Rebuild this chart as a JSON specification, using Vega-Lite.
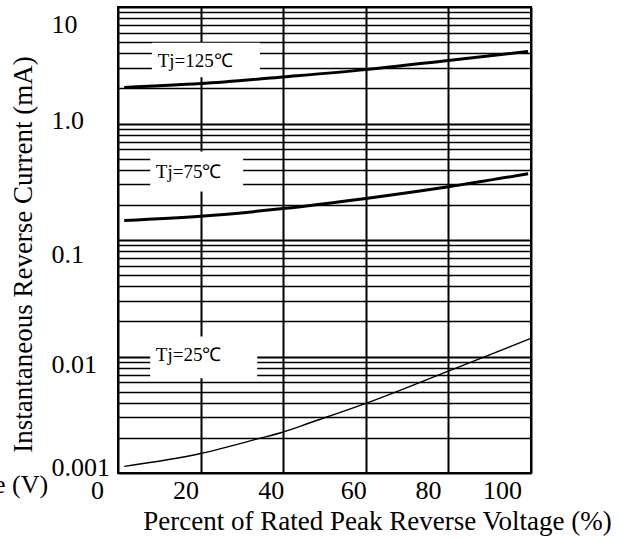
{
  "$schema": "https://vega.github.io/schema/vega-lite/v6.json",
  "width": 413,
  "height": 466,
  "autosize": {"type": "none"},
  "padding": {"left": 118, "top": 7, "right": 90, "bottom": 66},
  "background": "white",
  "config": {
    "view": {"stroke": "black", "strokeWidth": 2},
    "font": "Liberation Serif"
  },
  "datasets": {
    "curves": [
      {"series": "125", "pct": 1.5, "current": 2.04},
      {"series": "125", "pct": 20, "current": 2.2},
      {"series": "125", "pct": 40, "current": 2.51},
      {"series": "125", "pct": 60, "current": 2.9},
      {"series": "125", "pct": 80, "current": 3.48},
      {"series": "125", "pct": 99.3, "current": 4.16},
      {"series": "75", "pct": 1.5, "current": 0.147},
      {"series": "75", "pct": 20, "current": 0.16},
      {"series": "75", "pct": 40, "current": 0.186},
      {"series": "75", "pct": 60, "current": 0.227},
      {"series": "75", "pct": 80, "current": 0.286},
      {"series": "75", "pct": 99.3, "current": 0.37},
      {"series": "25", "pct": 1.5, "current": 0.00114},
      {"series": "25", "pct": 20, "current": 0.00147},
      {"series": "25", "pct": 34, "current": 0.00197},
      {"series": "25", "pct": 40, "current": 0.00225},
      {"series": "25", "pct": 46.5, "current": 0.0027},
      {"series": "25", "pct": 60, "current": 0.00396},
      {"series": "25", "pct": 80, "current": 0.0075},
      {"series": "25", "pct": 100, "current": 0.0143}
    ],
    "boxes": [
      {"label": "Tj=125℃", "x1": 8.2, "x2": 34.4, "y1": 4.94, "y2": 2.49, "tx": 18.7, "ty": 3.46},
      {"label": "Tj=75℃", "x1": 7.8, "x2": 30.3, "y1": 0.574, "y2": 0.261, "tx": 17.1, "ty": 0.387},
      {"label": "Tj=25℃", "x1": 7.8, "x2": 33.7, "y1": 0.01486, "y2": 0.00649, "tx": 17.1, "ty": 0.0104}
    ],
    "extra": [
      {"text": "e (V)", "pct": -16.9, "current": 0.00079}
    ]
  },
  "layer": [
    {
      "data": {"name": "curves"},
      "transform": [{"filter": "datum.series != '25'"}],
      "mark": {"type": "line", "interpolate": "monotone", "color": "black", "strokeWidth": 3},
      "encoding": {
        "x": {
          "field": "pct", "type": "quantitative",
          "scale": {"domain": [0, 100], "nice": false, "zero": false},
          "axis": {
            "values": [0, 20, 40, 60, 80, 100],
            "grid": true, "gridColor": "black", "gridWidth": 2, "gridOpacity": 1,
            "domain": false, "ticks": false, "tickSize": 0,
            "labelFont": "Liberation Serif", "labelFontSize": 26, "labelColor": "black",
            "labelBaseline": "middle", "labelPadding": 17, "labelFlush": false, "labelOverlap": false,
            "labelOffset": {"condition": [
              {"test": "datum.value == 0", "value": -21},
              {"test": "datum.value == 20", "value": -15},
              {"test": "datum.value == 40", "value": -12.5},
              {"test": "datum.value == 60", "value": -12.5},
              {"test": "datum.value == 80", "value": -20.5},
              {"test": "datum.value == 100", "value": -29}
            ], "value": -14},
            "title": "Percent of Rated Peak Reverse Voltage (%)",
            "titleFont": "Liberation Serif", "titleFontSize": 27, "titleFontWeight": "normal", "titleColor": "black",
            "titleX": 259, "titleY": 56, "titleAlign": "center", "titleBaseline": "alphabetic"
          }
        },
        "y": {
          "field": "current", "type": "quantitative",
          "scale": {"type": "log", "domain": [0.001, 10], "nice": false},
          "axis": {
            "values": [0.001, 0.002, 0.003, 0.004, 0.005, 0.006, 0.007, 0.008, 0.009,
                       0.01, 0.02, 0.03, 0.04, 0.05, 0.06, 0.07, 0.08, 0.09,
                       0.1, 0.2, 0.3, 0.4, 0.5, 0.6, 0.7, 0.8, 0.9,
                       1, 2, 3, 4, 5, 6, 7, 8, 9, 10],
            "labelExpr": "datum.value == 10 ? '10' : datum.value == 1 ? '1.0' : datum.value == 0.1 ? '0.1' : datum.value == 0.01 ? '0.01' : datum.value == 0.001 ? '0.001' : ''",
            "grid": true, "gridColor": "black", "gridOpacity": 1,
            "gridWidth": {"condition": {"test": "indexof([0.001, 0.01, 0.1, 1, 10], datum.value) >= 0", "value": 2}, "value": 1.4},
            "domain": false, "ticks": false, "tickSize": 0,
            "labelFont": "Liberation Serif", "labelFontSize": 26, "labelColor": "black",
            "labelAlign": "left", "labelBaseline": "middle", "labelPadding": 67,
            "labelFlush": false, "labelOverlap": false,
            "labelOffset": {"condition": [
              {"test": "datum.value == 10", "value": 17},
              {"test": "datum.value == 1", "value": -3.5},
              {"test": "datum.value == 0.1", "value": 14},
              {"test": "datum.value == 0.01", "value": 8},
              {"test": "datum.value == 0.001", "value": -5.5}
            ], "value": 0},
            "title": "Instantaneous Reverse Current (mA)",
            "titleFont": "Liberation Serif", "titleFontSize": 27, "titleFontWeight": "normal", "titleColor": "black",
            "titleAngle": -90, "titleX": -95, "titleY": 247, "titleAlign": "center", "titleBaseline": "middle"
          }
        },
        "detail": {"field": "series"}
      }
    },
    {
      "data": {"name": "curves"},
      "transform": [{"filter": "datum.series == '25'"}],
      "mark": {"type": "line", "interpolate": "monotone", "color": "black", "strokeWidth": 1.4},
      "encoding": {
        "x": {"field": "pct", "type": "quantitative"},
        "y": {"field": "current", "type": "quantitative"}
      }
    },
    {
      "data": {"name": "boxes"},
      "mark": {"type": "rect", "fill": "white", "stroke": null},
      "encoding": {
        "x": {"field": "x1", "type": "quantitative"},
        "x2": {"field": "x2"},
        "y": {"field": "y1", "type": "quantitative"},
        "y2": {"field": "y2"}
      }
    },
    {
      "data": {"name": "boxes"},
      "mark": {"type": "text", "font": "Liberation Serif", "fontSize": 19, "color": "black", "align": "center", "baseline": "middle"},
      "encoding": {
        "x": {"field": "tx", "type": "quantitative"},
        "y": {"field": "ty", "type": "quantitative"},
        "text": {"field": "label"}
      }
    },
    {
      "data": {"name": "extra"},
      "mark": {"type": "text", "font": "Liberation Serif", "fontSize": 26, "color": "black", "align": "right", "baseline": "middle", "clip": false},
      "encoding": {
        "x": {"field": "pct", "type": "quantitative"},
        "y": {"field": "current", "type": "quantitative"},
        "text": {"field": "text"}
      }
    }
  ]
}
